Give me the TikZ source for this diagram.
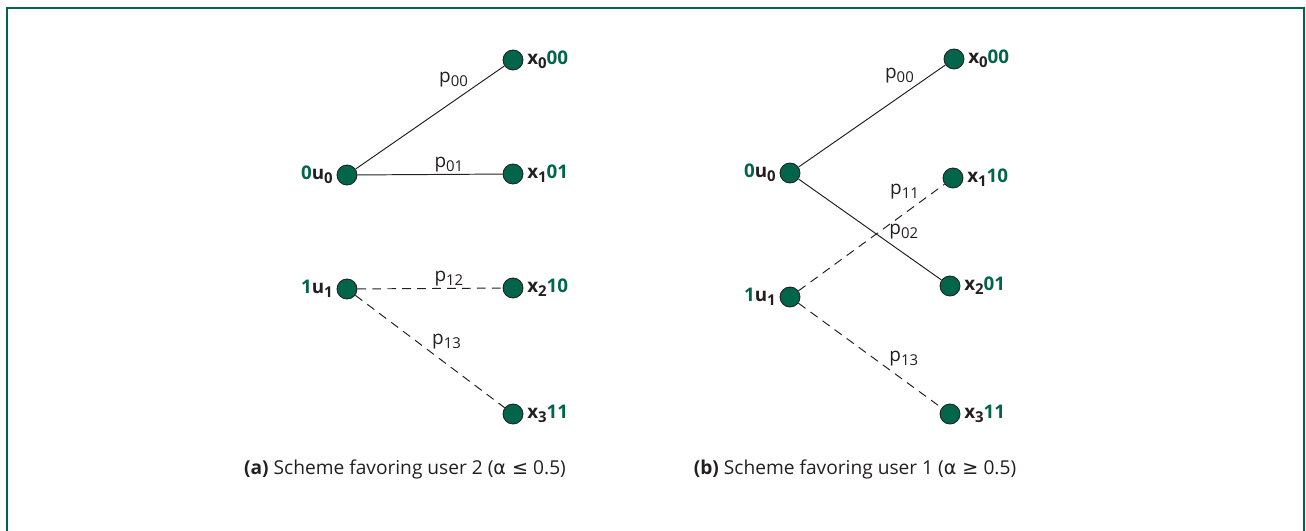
\documentclass[tikz,border=0pt]{standalone}
\usepackage{fontspec}
\setmainfont{Open Sans}
\newfontfamily\symf{DejaVu Sans}
\definecolor{dgreen}{RGB}{0,101,75}
\definecolor{ink}{RGB}{35,31,32}
\tikzset{
  v/.style={circle,draw=ink,fill=dgreen,minimum size=0.4cm,inner sep=0pt,line width=0.5pt},
  nl/.style={font=\fontsize{10.7}{12}\selectfont\bfseries,text=ink,inner sep=2pt},
  pl/.style={font=\fontsize{10.8}{12}\selectfont,text=ink,inner sep=1pt},
  sol/.style={draw=ink,line width=0.55pt},
  dsh/.style={draw=ink,line width=0.55pt,dash pattern=on 5pt off 3.5pt},
  capt/.style={font=\fontsize{10.9}{13}\selectfont,text=ink},
  frm/.style={draw=dgreen,line width=1.6pt},
}
\newcommand{\gr}[1]{\textcolor{dgreen}{#1}}
\newcommand{\lo}[1]{\raisebox{-0.4ex}{\fontsize{8.5}{9}\selectfont#1}}

\begin{document}
\begin{tikzpicture}[x=0.02cm,y=-0.02cm]
\useasboundingbox (0,0) rectangle (1306,531);
\coordinate (fl) at (7,531); \coordinate (fr) at (1304,531);
\draw[frm] (fl) |- (1304,8) -- (fr);
% (a)
\node[v,label={[nl]left:\gr{0}u\lo{0}}] (a0) at (347,175){};
\node[v,label={[nl]left:\gr{1}u\lo{1}}] (a1) at (347,289){};
\node[v,label={[nl]right:x\lo{0}\gr{00}}] (ax0) at (513,60){};
\node[v,label={[nl]right:x\lo{1}\gr{01}}] (ax1) at (513,174){};
\node[v,label={[nl]right:x\lo{2}\gr{10}}] (ax2) at (513,288){};
\node[v,label={[nl]right:x\lo{3}\gr{11}}] (ax3) at (513,414){};
\draw[sol] (a0)--node[pl,pos=0.77,anchor=south east]{p\lo{00}}(ax0);
\draw[sol] (a0)--node[pl,pos=0.63,above]{p\lo{01}}(ax1);
\draw[dsh] (a1)--node[pl,pos=0.63,above]{p\lo{12}}(ax2);
\draw[dsh] (a1)--node[pl,pos=0.5,anchor=south west]{p\lo{13}}(ax3);
% (b)
\node[v,label={[nl]left:\gr{0}u\lo{0}}] (b0) at (790,173){};
\node[v,label={[nl]left:\gr{1}u\lo{1}}] (b1) at (790,297){};
\node[v,label={[nl]right:x\lo{0}\gr{00}}] (bx0) at (954,59){};
\node[v,label={[nl]right:x\lo{1}\gr{10}}] (bx1) at (953,178){};
\node[v,label={[nl]right:x\lo{2}\gr{01}}] (bx2) at (950,286){};
\node[v,label={[nl]right:x\lo{3}\gr{11}}] (bx3) at (950,414){};
\draw[sol] (b0)--node[pl,pos=0.8,anchor=south east]{p\lo{00}}(bx0);
\draw[sol] (b0)--node[pl,pos=0.62,anchor=south west]{p\lo{02}}(bx2);
\draw[dsh] (b1)--node[pl,pos=0.84,anchor=south east]{p\lo{11}}(bx1);
\draw[dsh] (b1)--node[pl,pos=0.62,anchor=south west]{p\lo{13}}(bx3);
% captions
\node[capt] (capa) at (405,469){\textbf{(a)} Scheme favoring user 2 ({\symf α ≤} 0.5)};
\node[capt] (capb) at (855,469){\textbf{(b)} Scheme favoring user 1 ({\symf α ≥} 0.5)};
\end{tikzpicture}
\end{document}
